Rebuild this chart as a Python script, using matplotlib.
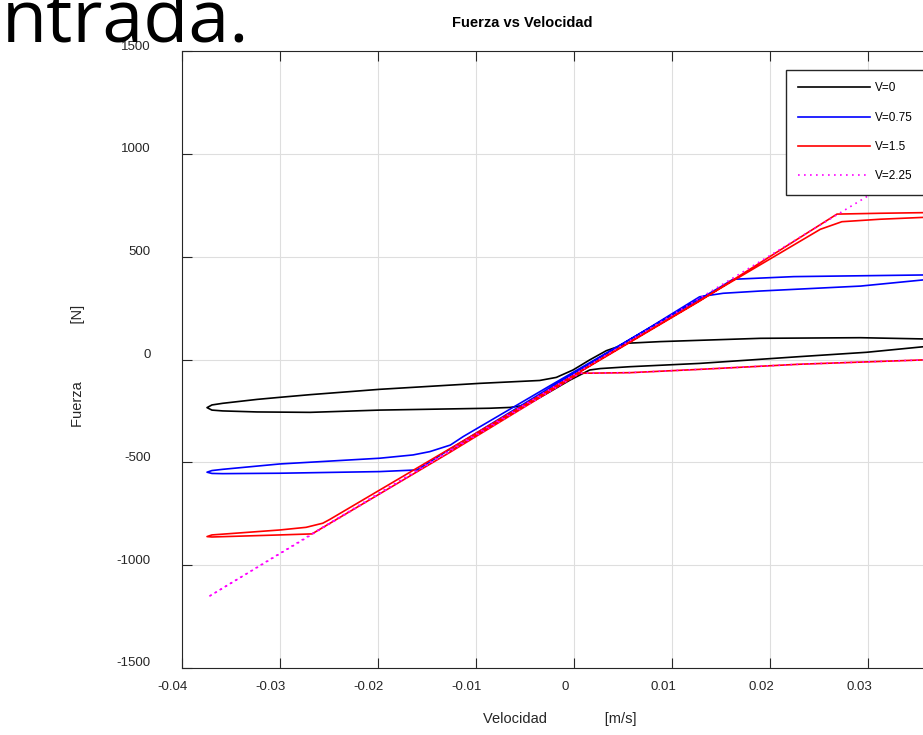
import matplotlib
matplotlib.use('Agg')
import matplotlib.pyplot as plt
from matplotlib.transforms import ScaledTranslation

plt.rcParams['font.family'] = ['Liberation Sans', 'DejaVu Sans']
plt.rcParams['axes.unicode_minus'] = False

# V=0 (black) loop, velocity [m/s] and force [N]
v0_x = [0.0375, 0.0368, 0.0356, 0.0298, 0.0230, 0.0128, 0.0057, 0.0027, 0.0016, -0.0004,
        -0.0025, -0.0045, -0.0055, -0.0065, -0.0086, -0.0198, -0.0269, -0.0323, -0.0358, -0.0369,
        -0.0374, -0.0369, -0.0358, -0.0323, -0.0300, -0.0269, -0.0198, -0.0096, -0.0035, -0.0018,
        -0.0001, 0.0016, 0.0033, 0.0047, 0.0054, 0.0088, 0.0190, 0.0292, 0.0356, 0.0368, 0.0375]
v0_f = [82, 70, 62, 35, 14, -19, -35, -44, -51, -100,
        -158, -212, -226, -233, -237, -246, -257, -255, -250, -246,
        -234, -221, -213, -194, -184, -171, -145, -116, -102, -87,
        -51, -2, 43, 66, 79, 87, 103, 106, 100, 92, 82]

# V=0.75 (blue)
v075_x = [0.0375, 0.0368, 0.0356, 0.0292, 0.0190, 0.0152, 0.0128, 0.0078, -0.0025, -0.0126,
          -0.0160, -0.0198, -0.0300, -0.0358, -0.0369, -0.0374, -0.0369, -0.0358, -0.0300, -0.0198,
          -0.0164, -0.0147, -0.0126, -0.0113, -0.0025, 0.0078, 0.0149, 0.0162, 0.0224, 0.0356,
          0.0368, 0.0375]
v075_f = [398, 391, 387, 357, 333, 322, 305, 158, -139, -435,
          -537, -545, -553, -555, -554, -548, -540, -534, -508, -480,
          -464, -448, -416, -375, -129, 156, 352, 390, 403, 411,
          408, 398]

# V=1.5 (red)
v15_x = [0.0375, 0.0356, 0.0230, 0.0128, 0.0057, 0.0006, -0.0126, -0.0267, -0.0300, -0.0369,
         -0.0374, -0.0369, -0.0300, -0.0273, -0.0256, -0.0249, -0.0075, 0.0128, 0.0268, 0.0312,
         0.0356, 0.0368, 0.0375, 0.0368, 0.0356, 0.0312, 0.0273, 0.0251, 0.0027, -0.0126]
v15_f = [0, -2, -23, -48, -64, -67, -450, -848, -853, -863,
         -861, -853, -829, -816, -796, -778, -289, 284, 707, 711,
         714, 710, 703, 695, 691, 682, 670, 633, 2, -445]

# V=2.25 (magenta, dotted)
v225_x = [0.0375, 0.0356, 0.0230, 0.0128, 0.0057, 0.0006, -0.0373, 0.0375]
v225_f = [0, -2, -23, -48, -64, -67, -1155, 1014]

labels = ['V=0', 'V=0.75', 'V=1.5', 'V=2.25']
xticks = [-0.04, -0.03, -0.02, -0.01, 0, 0.01, 0.02, 0.03, 0.04]
xtick_labels = ['-0.04', '-0.03', '-0.02', '-0.01', '0', '0.01', '0.02', '0.03', '0.04']
yticks = [-1500, -1000, -500, 0, 500, 1000, 1500]
ytick_labels = ['-1500', '-1000', '-500', '0', '500', '1000', '1500']

W, H = 923, 735
fig = plt.figure(figsize=(W / 100, H / 100), dpi=100)

# piece of the document text above the figure
fig.text(2 / W, 1 - 41 / H, 'ntrada.', fontsize=53, family='Open Sans', va='baseline', ha='left')

ax = fig.add_axes([181.5 / W, 67 / H, 785 / W, 617 / H])
ax.plot(v0_x, v0_f, color='black', lw=1.2, label=labels[0])
ax.plot(v075_x, v075_f, color='#0000ff', lw=1.2, label=labels[1])
ax.plot(v15_x, v15_f, color='#ff0000', lw=1.2, label=labels[2])
ax.plot(v225_x, v225_f, color='#ff00ff', lw=1.2, ls=(0, (1, 2.6)), label=labels[3])

ax.set_xlim(-0.04, 0.04)
ax.set_ylim(-1500, 1500)
ax.set_xticks(xticks)
ax.set_xticklabels(xtick_labels)
ax.set_yticks(yticks)
ax.set_yticklabels(ytick_labels)
ax.grid(True, color='#dedede', lw=0.8)
ax.set_axisbelow(True)
ax.tick_params(direction='in', length=7, width=0.8, top=True, right=True,
               colors='#262626', labelsize=9.5)
ax.tick_params(axis='x', pad=9)
ax.tick_params(axis='y', pad=22)
for s in ax.spines.values():
    s.set_color('#262626')
    s.set_linewidth(0.8)

for lab in ax.get_xticklabels():
    lab.set_transform(lab.get_transform() + ScaledTranslation(-0.09, 0, fig.dpi_scale_trans))
for lab in ax.get_yticklabels():
    lab.set_transform(lab.get_transform() + ScaledTranslation(0, 0.06, fig.dpi_scale_trans))

fig.text(522.6 / W, 1 - 23 / H, 'Fuerza vs Velocidad', fontsize=10.5, fontweight='bold',
         ha='center', va='center')
fig.text(560 / W, 1 - 719 / H, 'Velocidad              [m/s]', fontsize=10.5, color='#262626',
         ha='center', va='center')
fig.text(78 / W, 1 - 366 / H, 'Fuerza              [N]', fontsize=10.5, color='#262626',
         rotation=90, ha='center', va='center')

leg = ax.legend(loc='upper left', bbox_to_anchor=(785.7 / W, 1 - 196 / H, 170 / W, 126 / H),
                bbox_transform=fig.transFigure, mode='expand', borderaxespad=0, fontsize=8.5,
                handlelength=6.1, handletextpad=0.4, labelspacing=1.47, borderpad=1.05,
                fancybox=False, framealpha=1, edgecolor='#262626')
leg.get_frame().set_linewidth(1.0)

fig.savefig('out.png', dpi=100)
